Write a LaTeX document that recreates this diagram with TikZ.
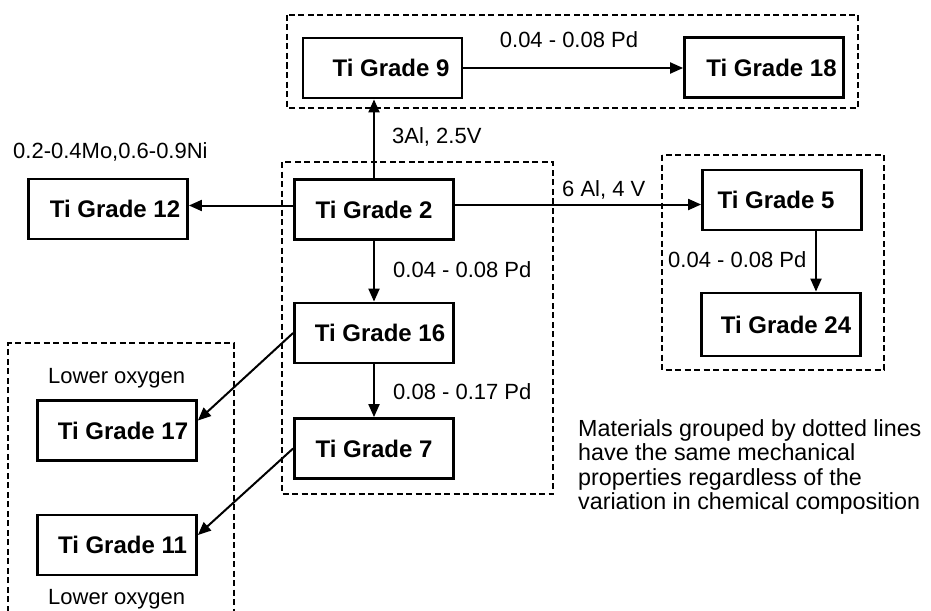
\documentclass[tikz,border=0pt]{standalone}
\usepackage{fontspec}
\setmainfont{Liberation Sans}
\usetikzlibrary{arrows.meta}
\begin{document}
\begin{tikzpicture}[x=1pt,y=-1pt,
  gbox/.style={draw,line width=2.8pt,minimum width=159pt,minimum height=60pt,inner sep=0pt,
    font=\fontsize{24}{28}\selectfont\bfseries},
  grp/.style={line width=1.5pt,dash pattern=on 6pt off 3.5pt},
  arr/.style={line width=2pt,-{Triangle[length=13pt,width=11pt]}},
  lbl/.style={inner sep=0pt,font=\fontsize{22}{25}\selectfont},
  note/.style={inner sep=0pt,align=left,font=\fontsize{23.3}{24.5}\selectfont}]
\useasboundingbox (0,0) rectangle (931,610);
% group frames
\draw[grp] (287,15) rectangle (858,108);
\draw[grp] (282,162) rectangle (553,494);
\draw[grp] (662,155) rectangle (884,370);
\draw[grp] (8,640) -- (8,343) -- (234,343) -- (234,640);
% boxes
\node[gbox] (g9)  at (382.5,68)  {\hspace*{17pt}Ti Grade 9};
\node[gbox] (g18) at (764,67.5)  {\hspace*{15pt}Ti Grade 18};
\node[gbox] (g12) at (108,209)   {\hspace*{14pt}Ti Grade 12};
\node[gbox] (g2)  at (374,209.5) {Ti Grade 2};
\node[gbox] (g5)  at (782,200)   {Ti Grade 5\hspace*{12pt}};
\node[gbox,minimum height=63pt] (g24) at (781,324.5) {\hspace*{10pt}Ti Grade 24};
\node[gbox] (g16) at (374,333)   {\hspace*{12pt}Ti Grade 16};
\node[gbox] (g7)  at (374,448.5) {Ti Grade 7};
\node[gbox] (g17) at (117,430.5) {\hspace*{12pt}Ti Grade 17};
\node[gbox] (g11) at (117,545)   {\hspace*{11pt}Ti Grade 11};
% connectors
\draw[arr] (g9.east) -- (g9.east -| g18.west);
\draw[arr] (g2.north) -- (g2.north |- g9.south);
\draw[arr] ([yshift=4pt]g2.west) -- ([yshift=4pt]g2.west -| g12.east);
\draw[arr] ([yshift=5pt]g2.east) -- ([yshift=5pt]g2.east -| g5.west);
\draw[arr] ([xshift=34pt]g5.south) -- ([xshift=34pt]g5.south |- g24.north);
\draw[arr] (g2.south) -- (g16.north);
\draw[arr] (g16.south) -- (g7.north);
\draw[arr] (g16.west) -- ([yshift=10pt]g17.east);
\draw[arr] (g7.west) -- ([yshift=10pt]g11.east);
% labels
\node[lbl] (l1) at (569,40) {0.04 - 0.08 Pd};
\node[lbl,anchor=west] (l2) at (392,137) {3Al, 2.5V};
\node[lbl,anchor=west] (l3) at (13,152) {0.2-0.4Mo,0.6-0.9Ni};
\node[lbl,anchor=west] (l4) at (562,190) {6 Al, 4 V};
\node[lbl,anchor=west] (l5) at (393,270) {0.04 - 0.08 Pd};
\node[lbl,anchor=west] (l6) at (668,260) {0.04 - 0.08 Pd};
\node[lbl,anchor=west] (l7) at (393,392) {0.08 - 0.17 Pd};
\node[lbl,anchor=west] (l8) at (48,378) {Lower oxygen};
\node[lbl,anchor=west] (l9) at (48,599) {Lower oxygen};
\node[note,anchor=north west] (nt) at (578,419) {Materials grouped by dotted lines\\have the same mechanical\\properties regardless of the\\variation in chemical composition};
\end{tikzpicture}
\end{document}
